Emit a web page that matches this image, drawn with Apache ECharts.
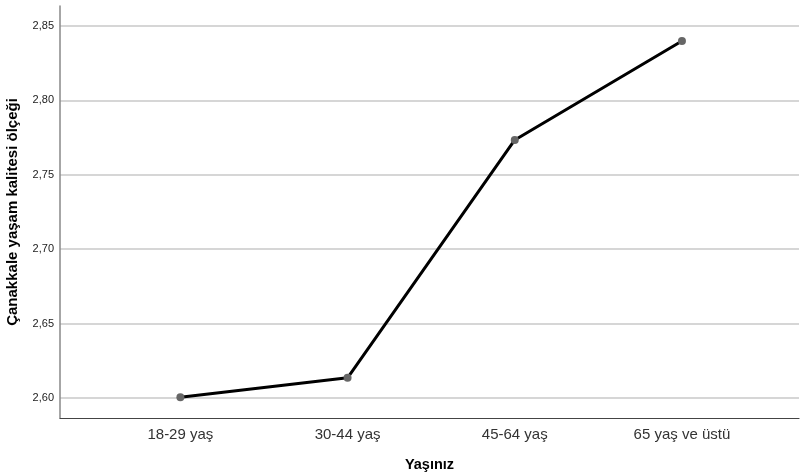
<!DOCTYPE html>
<html>
<head>
<meta charset="utf-8">
<script src="https://cdn.jsdelivr.net/npm/echarts@6/dist/echarts.min.js"></script>
<style>
html,body{margin:0;padding:0;background:#fff;}
#c{width:801px;height:474px;}
</style>
</head>
<body>
<div id="c"></div>
<script>
const categories = ['18-29 yaş', '30-44 yaş', '45-64 yaş', '65 yaş ve üstü'];
const values = [2.6005, 2.6136, 2.7734, 2.8399];
const yTicks = [2.60, 2.65, 2.70, 2.75, 2.80, 2.85];
const xTitle = 'Yaşınız';
const yTitle = 'Çanakkale yaşam kalitesi ölçeği';

const chart = echarts.init(document.getElementById('c'), null, {renderer: 'canvas'});
const fmt = v => Number(v).toFixed(2).replace('.', ',');
chart.setOption({
  animation: false,
  backgroundColor: '#fff',
  grid: {left: 60, right: 2, top: 6, bottom: 56, containLabel: false, outerBoundsMode: 'none'},
  xAxis: {
    type: 'value',
    min: -0.72,
    max: 3.70,
    name: xTitle,
    nameLocation: 'middle',
    nameGap: 39,
    nameTextStyle: {fontFamily: 'Liberation Sans', fontSize: 14.5, fontWeight: 'bold', color: '#000'},
    axisLine: {show: true, onZero: false, lineStyle: {color: '#444', width: 1.2}},
    axisTick: {show: false},
    splitLine: {show: false},
    axisLabel: {
      customValues: categories.map((c, i) => i),
      formatter: v => categories[Math.round(v)] || '',
      fontFamily: 'Liberation Sans', fontSize: 15, color: '#333', margin: 9
    }
  },
  yAxis: {
    type: 'value',
    min: 2.5866,
    max: 2.8634,
    name: yTitle,
    nameLocation: 'middle',
    nameGap: 40,
    nameTextStyle: {fontFamily: 'Liberation Sans', fontSize: 15, fontWeight: 'bold', color: '#000'},
    axisLine: {show: true, onZero: false, lineStyle: {color: '#888', width: 1.5}},
    axisTick: {show: false, customValues: yTicks},
    axisLabel: {
      customValues: yTicks,
      formatter: fmt,
      fontFamily: 'Liberation Sans', fontSize: 11, color: '#222', margin: 6
    },
    splitLine: {show: true, showMinLine: true, showMaxLine: true, lineStyle: {color: '#c8c8c8', width: 1.5}}
  },
  series: [{
    type: 'line',
    data: values.map((v, i) => [i, v]),
    lineStyle: {color: '#000', width: 3},
    itemStyle: {color: '#666'},
    symbol: 'circle',
    symbolSize: 8,
    showSymbol: true,
    z: 3
  }]
});
</script>
</body>
</html>
